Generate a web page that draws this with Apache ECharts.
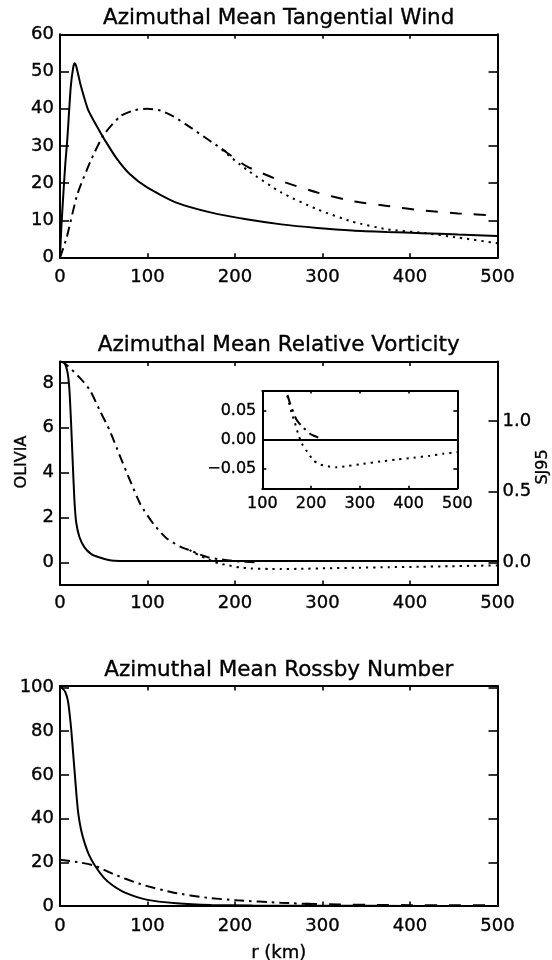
<!DOCTYPE html>
<html><head><meta charset="utf-8">
<script src="https://cdn.jsdelivr.net/npm/echarts@6/dist/echarts.min.js"></script>
<style>html,body{margin:0;padding:0;background:#fff}#c{width:552px;height:960px}</style>
</head><body><div id="c"></div>
<script>
// ---------- Data ----------
const titles = ['Azimuthal Mean Tangential Wind', 'Azimuthal Mean Relative Vorticity', 'Azimuthal Mean Rossby Number'];
const leftVortName = 'OLIVIA';
const rightVortName = 'SJ95';
const xName = 'r (km)';

// Panel 1: tangential wind
const windSolidR = [0, 1.5, 3.8, 6, 8.4, 12.2, 15, 16.8, 18.5, 21, 24, 32, 44, 52, 64, 80, 100, 133, 173, 213, 253, 294, 334, 374, 414, 455, 500];
const windSolidV = [0, 8, 17, 25, 32, 45.6, 51, 52.2, 51.5, 49, 46, 39.8, 34.5, 31.3, 26.9, 22.4, 18.8, 14.8, 12.1, 10.3, 8.95, 8.0, 7.3, 6.9, 6.6, 6.2, 5.8];
const windDashDotR = [0, 7.6, 19.8, 35, 50, 69, 85, 100, 115, 130, 149, 170, 189];
const windDashDotV = [0, 5.4, 17, 26, 33, 38, 39.6, 40, 39.5, 37.9, 35.0, 31.6, 28.6];
const windDashedR = [185, 213, 253, 294, 334, 374, 414, 455, 500];
const windDashedV = [29.2, 24.6, 20.6, 17.5, 15.2, 13.9, 12.7, 11.9, 11.3];
const windDottedR = [185, 213, 253, 294, 334, 374, 414, 455, 500];
const windDottedV = [29, 23.7, 17.5, 13, 9.7, 7.6, 6.7, 5.4, 3.9];

// Panel 2: relative vorticity (OLIVIA left axis, SJ95 right axis)
const vortSolidR = [0, 5, 8.8, 10.8, 12.7, 14.6, 16.5, 18.5, 22.3, 28, 35.8, 45.4, 57, 68.5, 100, 200, 300, 400, 500];
const vortSolidV = [8.94, 8.9, 8.42, 7.67, 6.18, 4.4, 2.76, 1.79, 1.12, 0.67, 0.37, 0.22, 0.10, 0.07, 0.06, 0.06, 0.06, 0.06, 0.06];
const vortDashDotR = [0, 5, 22, 34, 45, 57, 68, 80, 92, 107, 122, 138, 150, 156, 170, 181, 201, 225];
const vortDashDotV = [1.42, 1.41, 1.31, 1.22, 1.08, 0.93, 0.76, 0.58, 0.41, 0.27, 0.17, 0.11, 0.082, 0.065, 0.035, 0.0235, 0.009, 0.001];
const vortDottedR = [148, 153, 160, 167, 174, 181, 191, 205, 218, 239, 253, 273, 307, 342, 376, 410, 444, 472, 500];
const vortDottedV = [0.088, 0.07, 0.047, 0.029, 0.009, -0.006, -0.019, -0.035, -0.042, -0.046, -0.047, -0.045, -0.041, -0.037, -0.0335, -0.0306, -0.027, -0.0235, -0.021];
const insetSolidR = [100, 500];
const insetSolidV = [0, 0];
const leftVortTicks = [0, 2, 4, 6, 8];
const rightVortTicks = [0, 0.5, 1.0];
const insetYTicks = [-0.05, 0, 0.05];
const insetXTicks = [100, 200, 300, 400, 500];

// Panel 3: Rossby number
const rossSolidR = [0, 3, 6, 9, 11, 13, 15, 17, 19, 21, 24, 28, 33, 40, 50, 60, 75, 100, 133, 173, 220, 300, 400, 500];
const rossSolidV = [100.2, 99.5, 98, 94, 88, 80, 70, 60, 50, 42, 35, 29, 23.5, 18.4, 13, 9.5, 6, 2.8, 1.3, 0.5, 0.2, 0.1, 0.05, 0.03];
const rossDashDotR = [0, 23, 40, 61, 92, 130, 168, 202, 252, 292];
const rossDashDotV = [21.2, 19.9, 18.4, 14.6, 10, 6.1, 3.8, 2.6, 1.5, 0.8];
const rossDashedR = [280, 320, 360, 400, 450, 500];
const rossDashedV = [1.0, 0.7, 0.5, 0.4, 0.3, 0.3];
const rossTicks = [0, 20, 40, 60, 80, 100];

// ---------- Chart ----------
const FONT = 'DejaVu Sans';
const BLACK = '#000';
const TB = { textBorderColor: '#000', textBorderWidth: 0.35 };
const pairs = (r, v) => r.map((x, i) => [x, v[i]]);

const G = [
  { left: 60, top: 34.3, width: 437.5, height: 223.4 },
  { left: 60, top: 361.5, width: 437.5, height: 223.4 },
  { left: 262.3, top: 391, width: 195, height: 97.3 },
  { left: 60, top: 686, width: 437.5, height: 220 }
];

function axisLine() { return { show: true, onZero: false, lineStyle: { color: BLACK, width: 2 } }; }

function xAxis(gi, pos, labels, min, max, interval, tickLen, fs, extra) {
  return Object.assign({
    type: 'value', gridIndex: gi, position: pos, min: min, max: max, interval: interval,
    axisLine: axisLine(),
    axisTick: { show: true, inside: true, length: tickLen, lineStyle: { color: BLACK, width: 1.6 } },
    axisLabel: Object.assign({ show: labels, color: BLACK, fontFamily: FONT, fontSize: fs, margin: 11 }, TB),
    splitLine: { show: false }
  }, extra || {});
}

function yAxis(gi, pos, labels, min, max, tickLen, fs, extra) {
  return Object.assign({
    type: 'value', gridIndex: gi, position: pos, min: min, max: max,
    axisLine: axisLine(),
    axisTick: { show: true, inside: true, length: tickLen, lineStyle: { color: BLACK, width: 1.6 } },
    axisLabel: Object.assign({ show: labels, color: BLACK, fontFamily: FONT, fontSize: fs, margin: 6 }, TB),
    splitLine: { show: false }
  }, extra || {});
}

function line(xi, yi, data, type, width) {
  return {
    type: 'line', xAxisIndex: xi, yAxisIndex: yi, data: data, showSymbol: false, symbol: 'none',
    smooth: 0.2, clip: true, silent: true,
    lineStyle: { color: BLACK, width: width || 2, type: type, cap: 'butt' }
  };
}

const DASHDOT = [10, 5, 2.5, 5];
const DASHED = [12, 12];
const DOTTED = [2.2, 5];

const xAxes = [
  xAxis(0, 'bottom', true, 0, 500, 100, 4.5, 18),
  xAxis(0, 'top', false, 0, 500, 100, 4.5, 18),
  xAxis(1, 'bottom', true, 0, 500, 100, 4.5, 18),
  xAxis(1, 'top', false, 0, 500, 100, 4.5, 18),
  xAxis(2, 'bottom', true, 100, 500, 100, 2.5, 16),
  xAxis(2, 'top', false, 100, 500, 100, 2.5, 16),
  xAxis(3, 'bottom', true, 0, 500, 100, 4.5, 18, {
    name: xName, nameLocation: 'middle', nameGap: 38,
    nameTextStyle: Object.assign({ color: BLACK, fontFamily: FONT, fontSize: 18 }, TB)
  }),
  xAxis(3, 'top', false, 0, 500, 100, 4.5, 18)
];
xAxes[4].axisLabel.margin = 8;
xAxes[2].axisLabel.margin = 9;

const fmtInset = v => (Math.abs(v) < 1e-9 ? '0.00' : (v < 0 ? '\u2212' : '') + Math.abs(v).toFixed(2));

const yAxes = [
  yAxis(0, 'left', true, 0, 60, 9, 18, { interval: 10 }),
  yAxis(0, 'right', false, 0, 60, 9, 18, { interval: 10 }),
  yAxis(1, 'left', true, -1, 8.95, 9, 18),
  yAxis(1, 'right', true, -0.1587, 1.4204, 9, 18),
  yAxis(2, 'left', true, -0.083, 0.084, 4, 16),
  yAxis(2, 'right', false, -0.083, 0.084, 4, 16),
  yAxis(3, 'left', true, 0, 100.7, 9, 18),
  yAxis(3, 'right', false, 0, 100.7, 9, 18)
];
// custom tick positions
yAxes[2].axisTick.customValues = leftVortTicks;
yAxes[2].axisLabel.customValues = leftVortTicks;
yAxes[3].axisTick.customValues = rightVortTicks;
yAxes[3].axisLabel.customValues = rightVortTicks;
yAxes[3].axisLabel.formatter = v => v.toFixed(1);
yAxes[3].axisLabel.margin = 5;
yAxes[4].axisTick.customValues = insetYTicks;
yAxes[4].axisLabel.customValues = insetYTicks;
yAxes[4].axisLabel.formatter = fmtInset;
yAxes[5].axisTick.customValues = insetYTicks;
yAxes[6].axisTick.customValues = rossTicks;
yAxes[6].axisLabel.customValues = rossTicks;
yAxes[7].axisTick.customValues = rossTicks;
xAxes[4].axisTick.customValues = insetXTicks;
xAxes[4].axisLabel.customValues = insetXTicks;
xAxes[5].axisTick.customValues = insetXTicks;

const titleCfg = (text, topPx) => ({
  text: text, left: 278.75, top: topPx, textAlign: 'center', padding: 0,
  textStyle: Object.assign({ color: BLACK, fontFamily: FONT, fontSize: 21.5, fontWeight: 'normal' }, TB)
});

const vName = (text, x, y) => ({
  type: 'text', x: x, y: y, rotation: Math.PI / 2, silent: true,
  style: { text: text, fill: BLACK, fontFamily: FONT, fontSize: 16, align: 'center', verticalAlign: 'middle',
           stroke: '#000', lineWidth: 0.35 }
});

const option = {
  animation: false,
  backgroundColor: '#fff',
  title: [titleCfg(titles[0], 7), titleCfg(titles[1], 334), titleCfg(titles[2], 659)],
  grid: G.map((g, i) => Object.assign({
    containLabel: false, outerBoundsMode: 'none',
    show: i === 2, backgroundColor: '#fff', borderWidth: 0
  }, g)),
  graphic: [vName(leftVortName, 22, 462), vName(rightVortName, 543, 467)],
  xAxis: xAxes,
  yAxis: yAxes,
  series: [
    line(0, 0, pairs(windSolidR, windSolidV), 'solid'),
    line(0, 0, pairs(windDashDotR, windDashDotV), DASHDOT),
    line(0, 0, pairs(windDashedR, windDashedV), DASHED),
    line(0, 0, pairs(windDottedR, windDottedV), DOTTED),

    line(2, 2, pairs(vortSolidR, vortSolidV), 'solid'),
    line(2, 3, pairs(vortDashDotR, vortDashDotV), DASHDOT),
    line(2, 3, pairs(vortDottedR, vortDottedV), DOTTED),

    line(4, 4, pairs(insetSolidR, insetSolidV), 'solid'),
    line(4, 4, pairs(vortDashDotR, vortDashDotV), DASHDOT),
    line(4, 4, pairs(vortDottedR, vortDottedV), DOTTED),

    line(6, 6, pairs(rossSolidR, rossSolidV), 'solid'),
    line(6, 6, pairs(rossDashDotR, rossDashDotV), DASHDOT),
    line(6, 6, pairs(rossDashedR, rossDashedV), DASHED)
  ]
};

const chart = echarts.init(document.getElementById('c'), null, { renderer: 'canvas' });
chart.setOption(option);
</script>
</body></html>
